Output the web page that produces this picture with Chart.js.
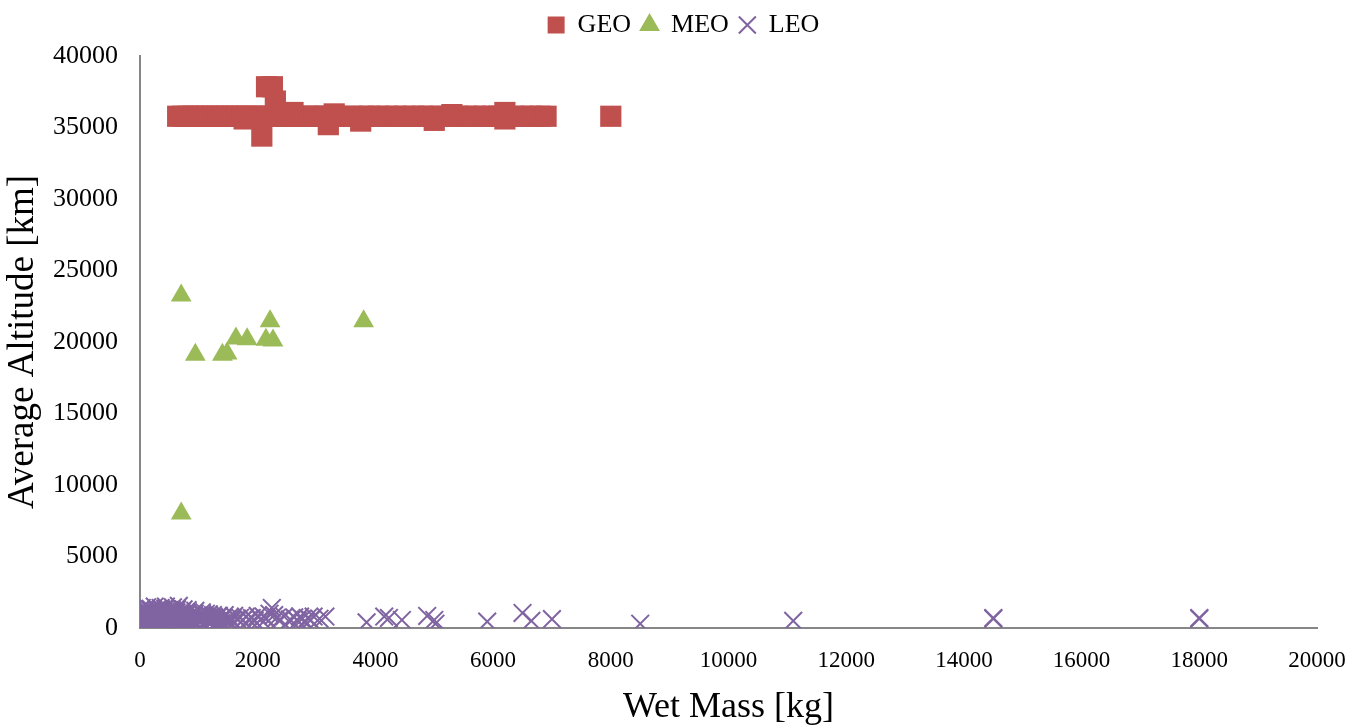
<!DOCTYPE html>
<html>
<head>
<meta charset="utf-8">
<script src="https://cdn.jsdelivr.net/npm/chart.js@4.4.0/dist/chart.umd.min.js"></script>
<style>
  body { margin: 0; background: #fff; }
  #wrap { width: 1367px; height: 726px; }
</style>
</head>
<body>
<div id="wrap"><canvas id="scatter-chart" width="1367" height="726"></canvas></div>
<script>
// GEO satellites: wet mass [kg] / average altitude [km]
var geoMass = [640, 720, 810, 900, 980, 1060, 1150, 1230, 1320, 1400, 1480, 1570, 1650, 1740, 1820, 1900, 1990,
  2100, 2200, 2400, 2500, 2600, 2700, 2850, 2950, 3050, 3150, 3300, 3450, 3600, 3800, 3900, 4050, 4200, 4350,
  4500, 4650, 4800, 4900, 5100, 5250, 5400, 5550, 5700, 5850, 6000, 6100, 6350, 6500, 6650, 6800, 6900, 8000,
  2150, 2250, 2300, 2600, 2070, 1770, 3200, 3750, 5000, 6200, 6200, 3300, 5300];
var geoAlt = [35786, 35786, 35786, 35786, 35786, 35786, 35786, 35786, 35786, 35786, 35786, 35786, 35786, 35786, 35786, 35786, 35786,
  35786, 35786, 35786, 35786, 35786, 35786, 35786, 35786, 35786, 35786, 35786, 35786, 35786, 35786, 35786, 35786, 35786, 35786,
  35786, 35786, 35786, 35786, 35786, 35786, 35786, 35786, 35786, 35786, 35786, 35786, 35786, 35786, 35786, 35786, 35786, 35786,
  37850, 37850, 36850, 36050, 34400, 35600, 35200, 35450, 35500, 36050, 35600, 35950, 35900];

// MEO satellites
var meoMass = [700, 940, 1400, 1480, 1630, 1820, 2140, 2210, 2260, 3800, 700];
var meoAlt = [23250, 19100, 19100, 19200, 20250, 20200, 20150, 21450, 20100, 21450, 8000];

// LEO satellites
var leoMass = [5, 10, 20, 30, 40, 50, 60, 70, 80, 90, 100, 110, 120, 130, 140, 150, 160, 170, 180, 190,
  200, 210, 220, 230, 250, 260, 280, 300, 310, 330, 350, 360, 380, 400, 420, 440, 460, 480, 500, 520,
  540, 560, 580, 600, 620, 640, 660, 680, 700, 720, 740, 760, 790, 820, 850, 880, 910, 940, 970, 1000,
  1030, 1060, 1090, 1120, 1150, 1180, 1210, 1240, 1280, 1320, 1360, 1400, 1440, 1480, 1520, 1560, 1600,
  1650, 1700, 1750, 1800, 1850, 1900, 1950, 2000,
  15, 35, 55, 75, 95, 115, 135, 155, 175, 195, 215, 240, 270, 290, 320, 340, 370, 390, 410, 430,
  450, 470, 490, 510, 530, 550, 570, 590, 610, 630, 650, 670, 690, 710, 730, 750, 780, 810, 840, 870,
  900, 930, 960, 990, 1020, 1050, 1080, 1110, 1140, 1170, 1200, 1260, 1300, 1340, 1380, 1420, 1500, 1540,
  2050, 2100, 2150, 2200, 2240, 2280, 2320, 2380, 2450,
  2550, 2620, 2680, 2720, 2760, 2800, 2850, 2900, 2950, 3050, 3150,
  3850, 4150, 4230, 4450, 4880, 5000, 5020,
  5900, 6500, 6650, 7000, 8500, 11100, 14500, 14500, 18000, 18000];
var leoAlt = [1200, 700, 500, 1400, 800, 600, 1000, 400, 1300, 750, 550, 900, 1450, 650, 800, 1100, 500, 700, 1350, 850,
  600, 1000, 450, 780, 1500, 650, 900, 520, 1200, 700, 1400, 820, 560, 1000, 700, 1500, 600, 850, 1250, 700,
  480, 1450, 900, 650, 1100, 780, 1550, 520, 950, 700, 1300, 820, 600, 1100, 750, 500, 900, 1200, 650, 800,
  550, 950, 700, 1000, 600, 780, 480, 900, 650, 820, 550, 700, 900, 600, 750, 500, 850,
  650, 720, 550, 800, 600, 700, 500, 850,
  350, 900, 300, 1100, 400, 1250, 300, 950, 380, 1200, 330, 1050, 420, 1300, 350, 1150, 300, 1000, 450, 1350,
  320, 1100, 400, 950, 300, 1200, 420, 1050, 350, 1300, 400, 900, 330, 1150, 450, 1000, 350, 1250, 300, 900,
  420, 1000, 350, 850, 400, 1100, 300, 800, 450, 950, 350, 750, 400, 850, 350, 700, 400, 650,
  600, 800, 650, 1000, 1400, 900, 700, 600, 800,
  600, 750, 500, 800, 650, 400, 700, 550, 800, 650, 800,
  400, 800, 700, 560, 840, 560, 300,
  450, 1050, 500, 620, 300, 500, 650, 700, 650, 700];

var xTicks = [0, 2000, 4000, 6000, 8000, 10000, 12000, 14000, 16000, 18000, 20000];
var yTicks = [0, 5000, 10000, 15000, 20000, 25000, 30000, 35000, 40000];

function pairs(xs, ys) {
    return xs.map(function(x, i) { return { x: x, y: ys[i] }; });
}

var serif = "'Liberation Serif', 'Times New Roman', serif";
var axisGrey = '#868686';

// keep a little room under the legend and centre it on the whole canvas
var legendTweak = {
    id: 'legendTweak',
    beforeInit: function(chart) {
        var fit = chart.legend.fit;
        chart.legend.fit = function() {
            fit.call(this);
            this.height += 8;
        };
    },
    afterLayout: function(chart) {
        chart.legend.left = 0;
        chart.legend.right = chart.width;
    }
};

function buildScatterChart() {
    var ctx = document.getElementById('scatter-chart');
    var chart = new Chart(ctx, {
        type: 'scatter',
        data: {
            datasets: [{
                label: 'GEO',
                data: pairs(geoMass, geoAlt),
                pointStyle: 'rect',
                pointRadius: 15,
                backgroundColor: '#C0504D',
                borderColor: '#C0504D',
                borderWidth: 0
            }, {
                label: 'MEO',
                data: pairs(meoMass, meoAlt),
                pointStyle: 'triangle',
                pointRadius: 12,
                backgroundColor: '#9BBB59',
                borderColor: '#9BBB59',
                borderWidth: 0
            }, {
                label: 'LEO',
                data: pairs(leoMass, leoAlt),
                pointStyle: 'crossRot',
                pointRadius: 12.5,
                backgroundColor: '#8064A2',
                borderColor: '#8064A2',
                borderWidth: 2
            }]
        },
        plugins: [legendTweak],
        options: {
            responsive: false,
            animation: false,
            layout: { padding: { top: 2, right: 50, bottom: -3, left: 0 } },
            plugins: {
                tooltip: { enabled: false },
                legend: {
                    position: 'top',
                    labels: {
                        usePointStyle: true,
                        boxWidth: 17,
                        boxHeight: 17,
                        padding: 10,
                        color: '#000',
                        font: { family: serif, size: 26 }
                    }
                }
            },
            scales: {
                x: {
                    type: 'linear',
                    min: 0,
                    max: 20000,
                    afterBuildTicks: function(s) { s.ticks = xTicks.map(function(v) { return { value: v }; }); },
                    afterFit: function(s) { s.height = 101; },
                    grid: { display: false, drawTicks: false },
                    border: { display: true, color: axisGrey, width: 2 },
                    ticks: {
                        padding: 19,
                        color: '#000',
                        font: { family: serif, size: 23 },
                        maxRotation: 0,
                        callback: function(v) { return String(v); }
                    },
                    title: {
                        display: true,
                        text: 'Wet Mass [kg]',
                        color: '#000',
                        font: { family: serif, size: 36 },
                        padding: { top: 0, bottom: 0 }
                    }
                },
                y: {
                    type: 'linear',
                    min: 0,
                    max: 40000,
                    afterBuildTicks: function(s) { s.ticks = yTicks.map(function(v) { return { value: v }; }); },
                    afterFit: function(s) { s.width = 140; },
                    grid: { display: false, drawTicks: false },
                    border: { display: true, color: axisGrey, width: 2 },
                    ticks: {
                        padding: 22,
                        color: '#000',
                        font: { family: serif, size: 26 },
                        callback: function(v) { return String(v); }
                    },
                    title: {
                        display: true,
                        text: 'Average Altitude [km]',
                        color: '#000',
                        font: { family: serif, size: 37 },
                        padding: { top: 1, bottom: 0 }
                    }
                }
            }
        }
    });
    return chart;
}

buildScatterChart();
</script>
</body>
</html>
